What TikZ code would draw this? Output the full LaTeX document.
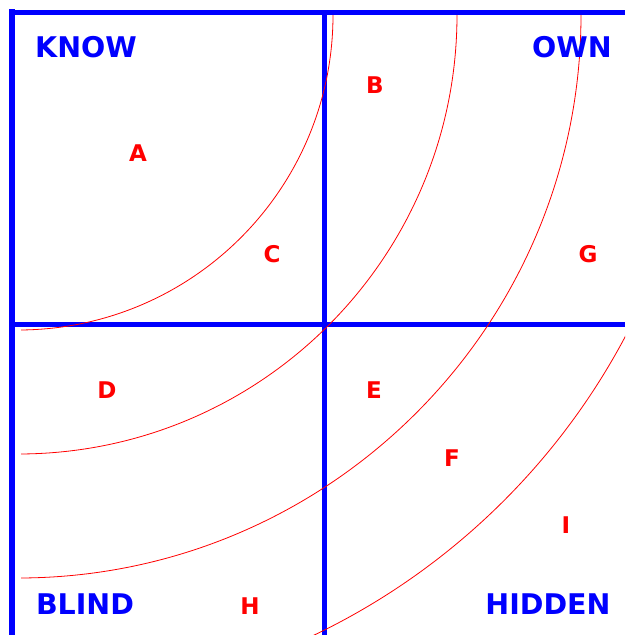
\documentclass[tikz,border=0pt]{standalone}
\usepackage{fontspec}
\setsansfont{DejaVu Sans}
\definecolor{jblue}{HTML}{0000FF}
\definecolor{jred}{HTML}{FF0000}
\usepackage{tikz}
\tikzset{
  gridline/.style={jblue,line width=5.5pt},
  ring/.style={jred,line width=0.8pt},
  quadlabel/.style={jblue,font=\sffamily\bfseries\fontsize{28.5}{28.5}\selectfont,inner sep=0pt},
  zonelabel/.style={jred,font=\sffamily\bfseries\fontsize{23}{23}\selectfont,inner sep=0pt}
}

\begin{document}
\begin{tikzpicture}[x=1pt,y=-1pt]
  \useasboundingbox (0,0) rectangle (625,635);
  % window frame
  \coordinate (tl) at (9,12.5);
  \coordinate (tr) at (625,12.5);
  \coordinate (lt) at (12,9);
  \coordinate (lb) at (12,635);
  \coordinate (vt) at (324.5,12);
  \coordinate (vb) at (324.5,635);
  \coordinate (hl) at (12,324.5);
  \coordinate (hr) at (625,324.5);
  \draw[gridline] (tl) -- (tr);
  \draw[gridline] (lt) -- (lb);
  \draw[gridline] (vt) -- (vb);
  \draw[gridline] (hl) -- (hr);
  % rings around the corner
  \begin{scope}
    \clip (21,15) rectangle (625,635);
    \coordinate (ctr) at (18,15);
    \foreach \r in {315,439,563,687} \draw[ring] (ctr) circle (\r pt);
  \end{scope}
  % quadrant names
  \node[quadlabel] (know) at (86,47.5) {KNOW};
  \node[quadlabel] (own) at (572,47.5) {OWN};
  \node[quadlabel] (blind) at (85,604) {BLIND};
  \node[quadlabel] (hidden) at (548,604) {HIDDEN};
  % zone letters
  \foreach \n/\x/\y in {A/138/153,B/375/85,C/272/254,G/588/254,D/107/390,E/374/390,F/452/458,I/566/525,H/250/606}
    \node[zonelabel] (z\n) at (\x,\y) {\n};
\end{tikzpicture}
\end{document}
